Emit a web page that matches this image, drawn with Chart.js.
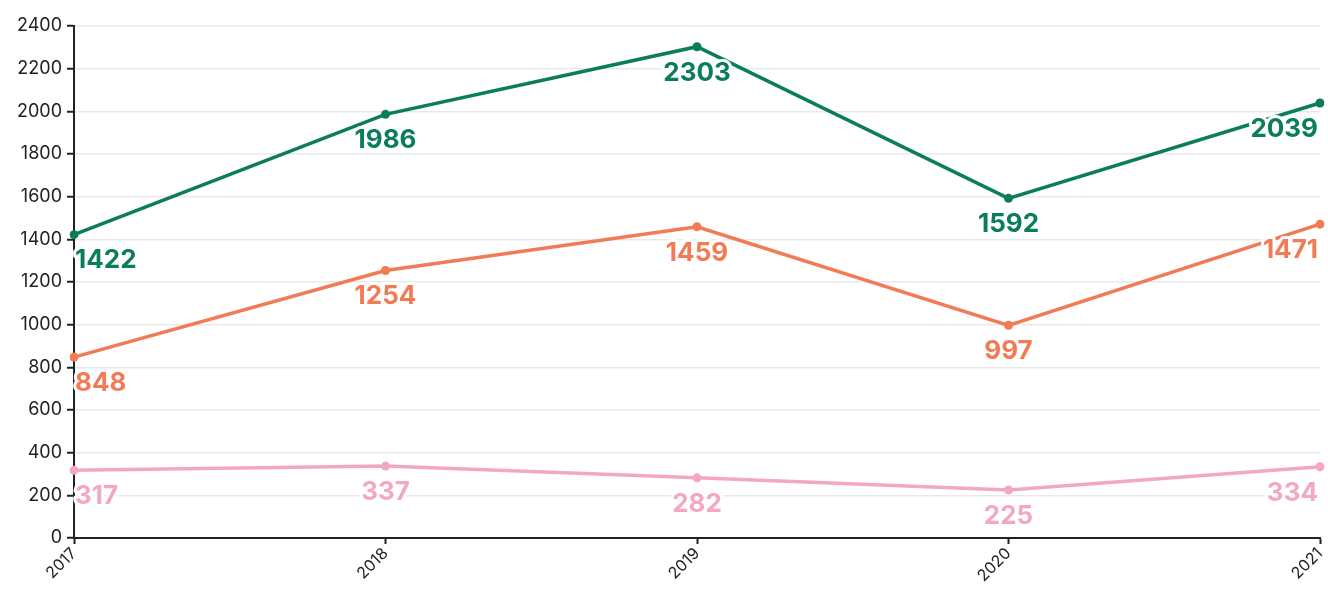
<!DOCTYPE html>
<html>
<head>
<meta charset="utf-8">
<script src="https://cdn.jsdelivr.net/npm/chart.js@4/dist/chart.umd.min.js"></script>
<style>
html,body{margin:0;padding:0;background:#fff;}
#wrap{width:1328px;height:594px;position:relative;}
</style>
</head>
<body>
<div id="wrap"><canvas id="c" width="1328" height="594"></canvas></div>
<script>
const years = ['2017','2018','2019','2020','2021'];
const seriesGreen = [1422, 1986, 2303, 1592, 2039];
const seriesOrange = [848, 1254, 1459, 997, 1471];
const seriesPink = [317, 337, 282, 225, 334];
const yTicks = [0,200,400,600,800,1000,1200,1400,1600,1800,2000,2200,2400];

const GREEN = '#0b7d5d', ORANGE = '#f27a55', PINK = '#f3a8c1';

const labelPlugin = {
  id: 'valueLabels',
  afterDatasetsDraw(chart) {
    const ctx = chart.ctx;
    const area = chart.chartArea;
    ctx.save();
    ctx.font = 'bold 26px Inter, "DejaVu Sans", sans-serif';
    ctx.textBaseline = 'middle';
    ctx.textAlign = 'left';
    ctx.lineJoin = 'round';
    chart.data.datasets.forEach((ds, i) => {
      const meta = chart.getDatasetMeta(i);
      meta.data.forEach((pt, j) => {
        const txt = String(ds.data[j]);
        const w = ctx.measureText(txt).width;
        let x = pt.x - w / 2;
        if (x < area.left + 1) x = area.left + 1;
        if (x + w > area.right - 2) x = area.right - 2 - w;
        const y = pt.y + 26;
        ctx.strokeStyle = '#ffffff';
        ctx.lineWidth = 6;
        ctx.strokeText(txt, x, y);
        ctx.fillStyle = ds.borderColor;
        ctx.fillText(txt, x, y);
      });
    });
    ctx.restore();
  }
};

new Chart(document.getElementById('c'), {
  type: 'line',
  data: {
    labels: years,
    datasets: [
      {label:'A', data: seriesGreen, borderColor: GREEN, backgroundColor: GREEN},
      {label:'B', data: seriesOrange, borderColor: ORANGE, backgroundColor: ORANGE},
      {label:'C', data: seriesPink, borderColor: PINK, backgroundColor: PINK}
    ]
  },
  options: {
    responsive: false,
    animation: false,
    layout: {padding: {top: 26, right: 8, left: 0, bottom: 0}},
    elements: {
      line: {borderWidth: 3.5, tension: 0},
      point: {radius: 4.5, borderWidth: 0}
    },
    plugins: {legend: {display: false}, tooltip: {enabled: false}},
    scales: {
      x: {
        offset: false,
        grid: {drawOnChartArea: false, drawTicks: true, tickLength: 6, tickColor: '#222', tickWidth: 2},
        border: {color: '#222', width: 2},
        ticks: {
          color: '#222', maxRotation: 45, minRotation: 45, padding: 0,
          font: {family: 'Inter, "DejaVu Sans", sans-serif', size: 16}
        },
        afterFit(s) { s.height = 56; s.paddingRight = 0; s.paddingLeft = 0; }
      },
      y: {
        min: 0, max: 2400,
        afterBuildTicks(s) { s.ticks = yTicks.map(v => ({value: v})); },
        grid: {color: '#e9e9e9', lineWidth: 1.5, tickLength: 7, tickColor: '#222', tickWidth: 2},
        border: {color: '#222', width: 2},
        ticks: {
          color: '#222', padding: 5,
          callback: v => String(v),
          font: {family: 'Inter, "DejaVu Sans", sans-serif', size: 18}
        },
        afterFit(s) { s.width = 74; s.paddingTop = 0; s.paddingBottom = 0; }
      }
    }
  },
  plugins: [labelPlugin]
});
</script>
</body>
</html>
